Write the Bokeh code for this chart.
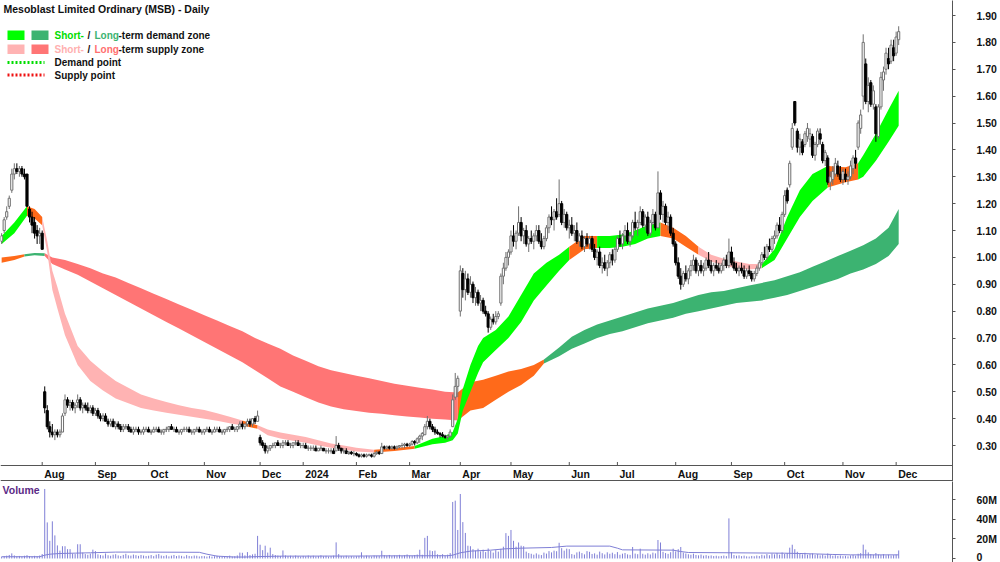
import numpy as np
from bokeh.plotting import figure
from bokeh.layouts import column
from bokeh.models import (Range1d, FixedTicker, Span, Label, BoxAnnotation,
                          Arrow, ColumnDataSource, PrintfTickFormatter, CustomJSTickFormatter)
from bokeh.core.properties import value
from bokeh.embed import file_html
from bokeh.resources import INLINE

FONT = "Liberation Sans"
TXT = "#111111"
AX = "#555555"

title = "Mesoblast Limited Ordinary (MSB) - Daily"

# ---------------- data ----------------
month_labels = ["Aug", "Sep", "Oct", "Nov", "Dec", "2024", "Feb", "Mar", "Apr", "May",
                "Jun", "Jul", "Aug", "Sep", "Oct", "Nov", "Dec"]
# trading bars per month, Jul-2023 .. Dec-2024
month_bars = [16, 21, 21, 22, 22, 17, 21, 21, 20, 20, 23, 19, 23, 22, 21, 23, 21, 2]

open_ = [
    1.06,1.10,1.15,1.19,1.25,1.31,1.33,1.32,1.33,1.31,1.31,1.18,1.15,1.13,1.10,1.08,
    1.09,0.50,0.43,0.37,0.35,0.34,0.35,0.34,0.35,0.42,0.47,0.45,0.46,0.44,0.46,0.47,0.44,0.45,0.44,0.43,0.44,
    0.42,0.43,0.41,0.40,0.41,0.39,0.38,0.39,0.37,0.38,0.37,0.36,0.37,0.37,0.36,0.35,0.36,0.36,0.35,0.35,0.36,
    0.36,0.35,0.35,0.36,0.36,0.35,0.35,0.36,0.36,0.37,0.36,0.36,0.35,0.35,0.36,0.36,0.36,0.35,0.35,0.36,0.36,0.35,
    0.35,0.36,0.36,0.35,0.35,0.36,0.36,0.35,0.35,0.36,0.36,0.37,0.36,0.36,0.37,0.38,0.37,0.38,0.39,0.38,0.40,0.39,
    0.33,0.31,0.30,0.28,0.29,0.30,0.30,0.31,0.30,0.30,0.31,0.31,0.30,0.30,0.31,0.31,0.30,
    0.30,0.30,0.29,0.29,0.29,0.29,0.28,0.29,0.29,0.28,0.28,0.28,0.28,0.28,0.30,0.29,0.28,0.28,0.27,0.275,0.27,
    0.27,0.265,0.26,0.265,0.26,0.265,0.265,0.26,0.27,0.275,0.27,0.295,0.29,0.295,0.29,0.295,0.29,0.295,0.30,0.30,0.305,
    0.30,0.305,0.315,0.31,0.325,0.335,0.34,0.37,0.39,0.37,0.36,0.35,0.345,0.34,0.335,0.33,0.335,0.37,0.48,0.52,
    0.80,0.94,0.88,0.92,0.87,0.90,0.85,0.87,0.83,0.84,0.80,0.79,0.74,0.77,0.76,0.78,0.83,0.93,0.96,1.00,
    1.02,1.08,1.06,1.09,1.13,1.08,1.10,1.05,1.07,1.06,1.08,1.10,1.06,1.04,1.07,1.11,1.15,1.14,1.17,1.16,1.20,1.13,1.16,
    1.11,1.12,1.09,1.10,1.06,1.08,1.04,1.07,1.05,1.07,1.03,1.00,1.02,0.97,0.98,0.96,0.98,1.01,0.99,
    1.03,1.07,1.05,1.08,1.10,1.06,1.08,1.13,1.11,1.13,1.17,1.12,1.15,1.09,1.13,1.16,1.11,1.24,1.16,1.19,1.13,1.15,1.09,
    1.05,0.98,0.93,0.90,0.94,0.92,0.95,0.97,0.99,0.95,0.97,0.95,0.96,0.99,0.97,0.95,0.97,0.96,0.95,0.97,0.99,0.97,
    1.02,0.98,0.96,0.95,0.96,0.95,0.93,0.95,0.94,0.92,0.94,0.96,0.98,1.01,1.00,1.04,1.03,1.07,1.08,1.12,1.10,
    1.16,1.25,1.27,1.41,1.58,1.47,1.41,1.43,1.42,1.45,1.44,1.45,1.38,1.42,1.46,1.42,1.36,1.37,1.28,1.29,1.31,1.34,1.31,
    1.29,1.31,1.29,1.30,1.33,1.37,1.41,1.48,1.60,1.72,1.58,1.65,1.57,1.56,1.45,1.56,1.66,1.70,1.74,1.73,1.78,
    1.76,1.81,
]
high = [
    1.09,1.15,1.19,1.23,1.33,1.35,1.35,1.34,1.34,1.33,1.31,1.19,1.17,1.15,1.12,1.11,
    1.10,0.52,0.45,0.39,0.38,0.36,0.36,0.36,0.42,0.49,0.48,0.47,0.47,0.46,0.49,0.48,0.46,0.46,0.46,0.45,0.45,
    0.44,0.44,0.42,0.42,0.42,0.40,0.40,0.40,0.39,0.39,0.38,0.38,0.38,0.38,0.37,0.37,0.37,0.37,0.36,0.37,0.37,
    0.37,0.36,0.37,0.37,0.37,0.36,0.36,0.37,0.37,0.38,0.37,0.37,0.36,0.36,0.37,0.37,0.37,0.36,0.36,0.37,0.37,0.36,
    0.36,0.37,0.37,0.36,0.37,0.37,0.37,0.36,0.36,0.37,0.37,0.38,0.37,0.37,0.39,0.39,0.38,0.40,0.40,0.40,0.41,0.43,
    0.34,0.32,0.31,0.30,0.30,0.31,0.31,0.32,0.31,0.32,0.32,0.32,0.31,0.31,0.32,0.32,0.31,
    0.31,0.31,0.30,0.30,0.30,0.30,0.29,0.30,0.29,0.29,0.29,0.29,0.29,0.335,0.31,0.29,0.29,0.29,0.28,0.28,0.28,
    0.275,0.27,0.27,0.27,0.27,0.27,0.27,0.275,0.28,0.28,0.31,0.30,0.30,0.30,0.30,0.30,0.30,0.30,0.31,0.31,0.31,
    0.31,0.32,0.32,0.33,0.34,0.35,0.38,0.41,0.40,0.38,0.37,0.36,0.35,0.35,0.34,0.34,0.36,0.49,0.57,0.56,
    0.97,0.96,0.95,0.94,0.93,0.91,0.89,0.88,0.86,0.85,0.82,0.80,0.78,0.79,0.80,0.80,0.94,0.98,1.02,1.03,
    1.10,1.12,1.10,1.19,1.15,1.11,1.12,1.08,1.10,1.09,1.12,1.12,1.09,1.08,1.12,1.16,1.19,1.18,1.22,1.29,1.21,1.18,1.17,
    1.14,1.15,1.12,1.13,1.09,1.10,1.08,1.09,1.08,1.08,1.05,1.03,1.04,1.00,1.01,0.99,1.02,1.03,1.04,
    1.08,1.10,1.09,1.12,1.13,1.09,1.14,1.17,1.14,1.19,1.18,1.16,1.17,1.14,1.18,1.17,1.32,1.25,1.21,1.20,1.17,1.16,1.11,
    1.06,1.00,0.96,0.95,0.97,0.96,0.99,1.01,1.00,0.98,0.99,0.98,1.00,1.02,0.99,0.98,0.99,0.98,0.98,1.00,1.01,1.07,
    1.04,1.00,0.98,0.97,0.98,0.97,0.96,0.97,0.95,0.95,0.97,0.99,1.02,1.04,1.05,1.07,1.08,1.10,1.13,1.15,1.17,
    1.25,1.26,1.36,1.50,1.58,1.48,1.46,1.44,1.47,1.50,1.48,1.46,1.43,1.48,1.48,1.43,1.40,1.38,1.32,1.34,1.37,1.36,1.34,
    1.33,1.33,1.32,1.36,1.38,1.40,1.51,1.55,1.83,1.74,1.67,1.66,1.64,1.57,1.57,1.69,1.71,1.78,1.78,1.81,1.81,
    1.84,1.86,
]
low = [
    1.05,1.09,1.14,1.18,1.24,1.29,1.31,1.30,1.30,1.29,1.19,1.13,1.09,1.07,1.05,1.05,
    1.03,0.42,0.36,0.33,0.33,0.32,0.33,0.33,0.35,0.41,0.44,0.43,0.43,0.42,0.44,0.43,0.42,0.43,0.42,0.42,0.41,
    0.41,0.40,0.39,0.39,0.39,0.37,0.37,0.37,0.36,0.36,0.35,0.35,0.36,0.35,0.35,0.34,0.35,0.34,0.34,0.34,0.35,
    0.35,0.34,0.35,0.35,0.35,0.34,0.34,0.35,0.35,0.36,0.35,0.35,0.34,0.34,0.35,0.35,0.35,0.34,0.34,0.35,0.35,0.34,
    0.34,0.35,0.35,0.34,0.35,0.35,0.35,0.34,0.34,0.35,0.35,0.36,0.35,0.35,0.36,0.36,0.36,0.37,0.37,0.37,0.38,0.39,
    0.30,0.29,0.27,0.27,0.28,0.29,0.29,0.30,0.29,0.29,0.30,0.30,0.29,0.29,0.30,0.30,0.29,
    0.29,0.29,0.28,0.28,0.28,0.28,0.28,0.28,0.28,0.27,0.27,0.27,0.27,0.28,0.28,0.27,0.27,0.27,0.265,0.265,0.26,
    0.26,0.255,0.255,0.255,0.255,0.26,0.255,0.255,0.265,0.265,0.27,0.285,0.285,0.285,0.285,0.285,0.285,0.29,0.29,0.29,0.295,
    0.295,0.30,0.30,0.305,0.31,0.32,0.34,0.36,0.36,0.35,0.34,0.34,0.33,0.33,0.325,0.32,0.33,0.37,0.47,0.48,
    0.78,0.85,0.84,0.86,0.85,0.83,0.82,0.82,0.80,0.79,0.78,0.72,0.73,0.75,0.75,0.77,0.82,0.90,0.95,0.97,
    1.01,1.04,1.03,1.08,1.06,1.05,1.04,1.02,1.05,1.03,1.06,1.05,1.03,1.03,1.06,1.09,1.12,1.10,1.14,1.15,1.12,1.11,1.10,
    1.07,1.08,1.06,1.05,1.04,1.03,1.02,1.04,1.03,1.02,0.99,0.97,0.96,0.94,0.95,0.93,0.96,0.97,0.98,
    1.02,1.04,1.03,1.06,1.05,1.04,1.07,1.10,1.08,1.12,1.11,1.10,1.08,1.08,1.12,1.10,1.11,1.14,1.13,1.12,1.10,1.08,1.04,
    0.97,0.92,0.88,0.89,0.91,0.90,0.93,0.95,0.94,0.93,0.94,0.93,0.95,0.96,0.94,0.93,0.95,0.94,0.94,0.95,0.96,0.96,
    0.97,0.95,0.94,0.93,0.94,0.92,0.92,0.93,0.91,0.91,0.93,0.95,0.97,0.99,0.99,1.02,1.02,1.05,1.07,1.09,1.09,
    1.15,1.20,1.26,1.40,1.49,1.39,1.38,1.38,1.41,1.43,1.41,1.37,1.36,1.41,1.42,1.35,1.34,1.27,1.25,1.27,1.30,1.30,1.28,
    1.27,1.28,1.27,1.29,1.31,1.33,1.40,1.46,1.55,1.57,1.54,1.56,1.55,1.43,1.44,1.55,1.62,1.68,1.70,1.72,1.73,
    1.75,1.79,
]
close_ = [
    1.08,1.14,1.17,1.22,1.31,1.33,1.32,1.33,1.31,1.30,1.19,1.15,1.12,1.09,1.08,1.09,
    1.03,0.44,0.37,0.35,0.34,0.35,0.34,0.35,0.41,0.47,0.45,0.46,0.44,0.45,0.47,0.44,0.45,0.44,0.43,0.44,0.42,
    0.43,0.41,0.40,0.41,0.39,0.38,0.39,0.37,0.38,0.37,0.36,0.37,0.37,0.36,0.35,0.36,0.36,0.35,0.35,0.36,0.36,
    0.35,0.35,0.36,0.36,0.35,0.35,0.36,0.36,0.37,0.36,0.36,0.35,0.35,0.36,0.36,0.36,0.35,0.35,0.36,0.36,0.35,0.35,
    0.36,0.36,0.35,0.35,0.36,0.36,0.35,0.35,0.36,0.36,0.37,0.36,0.36,0.37,0.38,0.37,0.38,0.39,0.38,0.40,0.39,0.41,
    0.31,0.30,0.28,0.29,0.30,0.30,0.31,0.30,0.30,0.31,0.31,0.30,0.30,0.31,0.31,0.30,0.30,
    0.30,0.29,0.29,0.29,0.29,0.28,0.29,0.29,0.28,0.28,0.28,0.28,0.27,0.30,0.29,0.28,0.28,0.27,0.275,0.27,0.27,
    0.265,0.26,0.265,0.26,0.265,0.265,0.26,0.27,0.275,0.27,0.295,0.29,0.295,0.29,0.295,0.29,0.295,0.30,0.30,0.305,0.30,
    0.305,0.315,0.31,0.325,0.335,0.345,0.37,0.39,0.37,0.36,0.35,0.345,0.34,0.335,0.33,0.335,0.35,0.47,0.52,0.55,
    0.95,0.88,0.92,0.87,0.90,0.85,0.87,0.83,0.84,0.80,0.79,0.74,0.77,0.76,0.78,0.79,0.93,0.96,1.00,1.02,
    1.08,1.06,1.09,1.13,1.08,1.10,1.05,1.07,1.06,1.08,1.10,1.06,1.04,1.07,1.11,1.15,1.14,1.17,1.15,1.20,1.13,1.16,1.11,
    1.12,1.09,1.10,1.06,1.08,1.04,1.07,1.05,1.07,1.03,1.00,1.02,0.97,0.98,0.96,0.98,1.01,0.99,1.03,
    1.07,1.05,1.08,1.10,1.06,1.08,1.13,1.11,1.13,1.17,1.12,1.15,1.09,1.13,1.16,1.11,1.24,1.16,1.19,1.13,1.15,1.09,1.05,
    0.98,0.93,0.90,0.94,0.92,0.95,0.97,0.99,0.95,0.97,0.95,0.96,0.99,0.97,0.95,0.97,0.96,0.95,0.97,0.99,0.97,1.02,
    0.98,0.96,0.95,0.96,0.95,0.93,0.95,0.94,0.92,0.94,0.96,0.98,1.01,1.00,1.04,1.03,1.07,1.08,1.12,1.10,1.16,
    1.23,1.21,1.35,1.48,1.50,1.41,1.44,1.39,1.46,1.48,1.46,1.38,1.42,1.47,1.44,1.36,1.39,1.28,1.30,1.32,1.35,1.31,1.29,
    1.32,1.29,1.30,1.34,1.37,1.35,1.50,1.53,1.80,1.58,1.64,1.57,1.62,1.46,1.56,1.67,1.69,1.76,1.72,1.79,1.75,
    1.82,1.84,
]
volume_m = [
    1.8,2.4,2.9,3.6,5.2,3.1,2.2,2.6,1.9,2.8,3.4,2.5,2.0,2.7,2.3,3.0,
    4.5,70.7,36.7,18.0,37.8,23.5,13.3,8.0,12.5,12.5,9.5,9.5,5.0,4.5,14.5,14.5,6.0,4.5,3.8,5.0,9.0,
    7.5,4.2,3.5,3.0,5.1,3.3,2.8,3.9,4.4,3.1,2.6,3.7,4.8,3.2,2.9,4.0,3.4,2.7,3.6,3.0,2.5,
    2.8,3.5,2.4,3.9,4.6,3.0,2.6,3.3,2.2,2.9,3.6,2.5,3.1,2.7,2.0,3.4,2.6,2.3,3.0,2.8,2.1,2.5,
    2.4,2.0,2.7,1.9,2.3,2.8,2.1,1.8,2.5,2.2,2.9,2.0,2.4,3.1,6.0,5.8,3.2,6.5,3.5,4.2,4.8,23.0,
    14.0,8.5,13.0,6.0,11.0,4.5,3.5,3.0,2.6,8.2,3.1,2.4,2.8,2.2,3.0,2.5,2.0,
    2.6,2.2,3.0,2.4,2.8,2.1,2.5,3.2,2.3,2.7,2.0,2.4,2.9,16.4,4.5,2.6,2.2,2.8,2.1,2.4,2.0,
    2.3,2.6,6.3,2.2,2.9,2.4,2.1,3.0,2.7,2.5,7.9,3.4,2.8,3.6,2.5,3.1,2.9,3.7,2.6,3.3,4.1,
    3.0,2.7,3.5,4.0,8.9,3.8,21.0,23.0,8.2,7.5,8.0,4.2,3.6,4.4,3.1,3.9,5.5,57.5,58.8,29.0,
    65.6,37.0,26.0,13.0,12.5,9.5,8.0,10.0,7.2,9.0,6.5,10.2,7.8,6.0,8.5,7.0,9.8,12.0,25.8,23.0,
    29.0,18.0,12.0,16.3,13.0,12.5,7.0,5.5,4.8,3.9,5.2,4.0,3.5,6.0,5.0,7.5,6.2,8.0,7.4,16.0,10.5,8.0,10.0,
    9.5,4.5,3.8,6.2,7.0,5.5,4.2,7.5,6.8,4.6,5.2,3.9,7.0,5.4,4.1,6.3,4.8,5.9,4.4,
    6.5,3.8,4.9,5.6,4.2,3.7,11.7,5.0,4.4,10.0,4.8,3.9,5.3,4.1,6.0,5.2,18.8,16.3,6.8,5.5,4.7,6.4,10.0,
    7.2,9.5,11.7,6.0,5.1,4.3,3.8,4.9,3.6,3.2,4.0,2.9,3.4,2.7,3.1,2.5,2.8,2.3,2.6,3.0,2.4,40.8,
    6.5,3.5,2.8,3.2,2.4,2.9,2.2,2.0,2.6,2.3,3.0,2.5,3.8,3.1,4.5,3.3,5.0,4.2,5.6,3.9,6.1,
    4.8,5.5,11.0,14.0,9.5,6.8,5.0,4.2,5.8,3.9,4.6,5.2,3.5,4.4,3.2,4.0,2.9,5.1,3.6,2.8,3.3,2.6,3.0,
    2.4,2.7,2.2,3.1,3.6,2.9,4.8,5.5,14.1,9.0,6.2,4.5,3.8,5.6,4.1,3.5,4.4,3.2,3.9,3.0,3.4,
    4.0,8.2,
]
# volume moving average (at bar positions)
vma_idx = [0,15,17,19,23,35,45,55,78,81,85,92,96,102,111,142,150,176,178,181,185,193,199,205,217,
           223,240,243,245,265,268,271,288,309,315,328,335,354]
vma_val = [1.8,1.8,3.4,4.4,5.1,5.8,6.5,6.5,6.3,4.4,2.4,1.5,1.5,2.0,2.4,2.5,2.7,2.8,3.4,5.8,7.5,8.5,9.9,
           10.5,11.2,12.6,12.6,10.5,8.8,8.5,7.1,6.1,5.8,5.4,5.1,4.1,3.7,3.7]

# short-term zone (band edges at bar positions; zone code applies from that bar onward)
st_idx = [0,5,10,13,16,18,20,22,25,30,35,40,45,50,55,60,65,70,75,80,85,90,95,101,105,110,115,120,125,130,
          135,140,147,155,163,170,175,178,180,182,185,188,190,195,200,205,210,215,220,224,230,235,240,245,250,
          255,260,265,270,275,280,285,290,295,300,305,310,315,320,326,333,338,340,345,350,354]
st_lo = [1.05,1.09,1.155,1.145,1.12,1.02,0.88,0.81,0.71,0.60,0.54,0.505,0.475,0.457,0.44,0.43,0.422,0.414,0.407,0.40,
         0.392,0.383,0.374,0.362,0.338,0.326,0.318,0.31,0.30,0.292,0.285,0.278,0.274,0.28,0.288,0.305,0.31,0.32,0.345,0.43,
         0.50,0.57,0.61,0.655,0.70,0.76,0.84,0.895,0.95,0.99,1.03,1.035,1.035,1.04,1.05,1.07,1.08,1.07,1.04,1.01,
         0.985,0.97,0.96,0.955,0.96,0.99,1.07,1.15,1.21,1.26,1.28,1.29,1.30,1.36,1.43,1.49]
st_hi = [1.08,1.13,1.19,1.18,1.15,1.06,0.95,0.89,0.79,0.67,0.615,0.575,0.54,0.515,0.49,0.475,0.462,0.45,0.44,0.432,
         0.42,0.407,0.393,0.375,0.36,0.348,0.34,0.332,0.32,0.307,0.30,0.292,0.284,0.29,0.298,0.325,0.335,0.35,0.40,0.51,
         0.60,0.67,0.70,0.73,0.78,0.86,0.94,0.98,1.01,1.04,1.08,1.08,1.08,1.085,1.10,1.12,1.13,1.11,1.08,1.04,
         1.01,0.995,0.985,0.975,0.975,1.03,1.15,1.25,1.31,1.34,1.335,1.35,1.38,1.46,1.55,1.62]
st_zone = ["g","g","o","o","p","p","p","p","p","p", "p","p","p","p","p","p","p","p","p","p",
           "p","p","o","p","p","p","p","p","p","p", "p","p","o","o","g","g","g","g","g","g",
           "g","g","g","g","g","g","g","g","g","o", "o","g","g","g","g","g","o","o","o","p",
           "p","p","p","p","g","g","g","g","g","o", "o","g","g","g","g","g"]

# long-term zone
lt_idx = [0,5,9,13,17,20,25,30,35,40,45,50,55,60,65,70,75,80,85,90,95,100,105,110,115,120,125,130,135,140,
          145,150,155,160,165,170,175,180,185,190,195,200,205,210,214,220,225,230,235,240,245,250,255,260,265,
          270,275,280,285,290,295,300,305,310,315,320,325,330,335,340,345,350,354]
lt_lo = [0.98,0.99,1.003,1.008,1.005,0.975,0.955,0.935,0.91,0.885,0.86,0.835,0.81,0.785,0.76,0.735,0.71,0.685,0.66,0.635,
         0.61,0.58,0.55,0.52,0.50,0.48,0.46,0.445,0.435,0.428,0.422,0.418,0.413,0.408,0.404,0.40,0.397,0.393,0.43,0.44,
         0.47,0.50,0.525,0.56,0.605,0.632,0.66,0.68,0.70,0.715,0.725,0.74,0.755,0.765,0.775,0.79,0.80,0.81,0.82,0.83,
         0.835,0.84,0.85,0.86,0.875,0.89,0.905,0.92,0.94,0.955,0.975,1.005,1.05]
lt_hi = [1.00,1.005,1.012,1.016,1.015,1.0,0.99,0.975,0.96,0.94,0.925,0.905,0.885,0.865,0.845,0.825,0.805,0.785,0.765,0.745,
         0.725,0.70,0.68,0.66,0.635,0.615,0.595,0.58,0.57,0.56,0.55,0.54,0.53,0.522,0.515,0.508,0.50,0.497,0.535,0.545,
         0.56,0.575,0.585,0.60,0.62,0.665,0.705,0.73,0.75,0.765,0.78,0.795,0.81,0.82,0.83,0.845,0.86,0.87,0.875,0.885,
         0.895,0.905,0.915,0.93,0.945,0.965,0.985,1.005,1.025,1.045,1.07,1.11,1.18]
lt_zone = ["o","o","g","g"] + ["r"] * 33 + ["o"] * 7 + ["g"] * 29

price_ticks = [0.3, 0.4, 0.5, 0.6, 0.7, 0.8, 0.9, 1.0, 1.1, 1.2, 1.3, 1.4, 1.5, 1.6, 1.7, 1.8, 1.9]
vol_ticks = [0, 20, 40, 60]

ST_COL = {"g": "#00FF00", "o": "#FF6A1A", "p": "#FFB3B3"}
LT_COL = {"g": "#3CB371", "o": "#FF6A1A", "r": "#FF7575"}
VCOL = "#7F7FD6"

# ---------------- geometry ----------------
n = len(close_)
xs = list(range(n))
month_start = [int(v) for v in np.cumsum([0] + month_bars)[1:-1]]

PX_PER_BAR = 2.534
FRAME_W = 952
X0 = -1.15 / PX_PER_BAR
X1 = X0 + FRAME_W / PX_PER_BAR
PX_PER_UNIT = 268.75
P_H = 481
Y1 = 1.90 + 15 / PX_PER_UNIT
Y0 = Y1 - P_H / PX_PER_UNIT


def sx(px):
    return X0 + px / PX_PER_BAR


def sy(py):
    return Y1 - py / PX_PER_UNIT


def style_axis(ax):
    ax.axis_line_color = AX
    ax.major_tick_line_color = AX
    ax.major_tick_in = 0
    ax.major_tick_out = 3
    ax.minor_tick_line_color = None
    ax.major_label_standoff = 21
    ax.major_label_text_font = FONT
    ax.major_label_text_font_style = "bold"
    ax.major_label_text_font_size = "10.5px"
    ax.major_label_text_color = TXT


# ---------------- price pane ----------------
p1 = figure(width=1000, height=P_H, x_range=Range1d(X0, X1), y_range=Range1d(Y0, Y1),
            output_backend="svg", toolbar_location=None, x_axis_location=None,
            y_axis_location="right", min_border_left=0, min_border_right=48,
            min_border_top=0, min_border_bottom=0)
p1.outline_line_color = None
p1.grid.visible = False
ya = p1.yaxis[0]
ya.ticker = FixedTicker(ticks=price_ticks)
ya.formatter = PrintfTickFormatter(format="%.2f")
style_axis(ya)


def draw_band(p, idx, lo, hi, zone, cmap):
    m = len(idx)
    k = 0
    while k < m - 1:
        j = k
        while j + 1 < m - 1 and zone[j + 1] == zone[k]:
            j += 1
        sl = slice(k, j + 2)
        src = ColumnDataSource(dict(x=idx[sl], lo=lo[sl], hi=hi[sl]))
        p.varea(x="x", y1="lo", y2="hi", source=src, fill_color=cmap[zone[k]], fill_alpha=1.0)
        k = j + 1


draw_band(p1, lt_idx, lt_lo, lt_hi, lt_zone, LT_COL)
draw_band(p1, st_idx, st_lo, st_hi, st_zone, ST_COL)

o = np.array(open_)
c = np.array(close_)
up = c >= o
csrc = ColumnDataSource(dict(
    x=xs, h=high, l=low,
    top=list(np.maximum(o, c)), bot=list(np.minimum(o, c)),
    wick=["#707070" if u else "#000000" for u in up],
    fill=["#ffffff" if u else "#000000" for u in up],
))
p1.segment(x0="x", y0="l", x1="x", y1="h", line_color="wick", line_width=1, source=csrc)
p1.vbar(x="x", width=0.85, top="top", bottom="bot", fill_color="fill",
        line_color="wick", line_width=1, source=csrc)

# date band
p1.add_layout(Span(location=sy(465), dimension="width", line_color=AX, line_width=1))
p1.add_layout(Span(location=sy(480), dimension="width", line_color=AX, line_width=1))
msrc = ColumnDataSource(dict(x=month_start, lab=month_labels))
p1.segment(x0="x", y0=sy(465), x1="x", y1=sy(461.5), line_color=AX, line_width=1, source=msrc)
p1.text(x="x", y=sy(473), text="lab", x_offset=2, text_align="left", text_baseline="middle",
        text_font=value(FONT), text_font_style="bold", text_font_size="10.5px",
        text_color=TXT, source=msrc)


def lab(px, py, text, color=TXT, size="10px"):
    p1.add_layout(Label(x=sx(px), y=sy(py), text=text, text_color=color, text_font=FONT,
                        text_font_style="bold", text_font_size=size,
                        text_baseline="middle", text_align="left"))


def box(l, r, t, b, color):
    p1.add_layout(BoxAnnotation(left=sx(l), right=sx(r), top=sy(t), bottom=sy(b),
                                fill_color=color, fill_alpha=1.0, line_color=None))


lab(3, 8, title, size="10.5px")
box(7, 24, 30, 39.5, ST_COL["g"])
box(31, 48, 30, 39.5, LT_COL["g"])
box(7, 24, 44, 53.5, ST_COL["p"])
box(31, 48, 44, 53.5, LT_COL["r"])
lab(54, 35, "Short-", "#00DD00")
lab(87, 35, "/")
lab(94, 35, "Long", LT_COL["g"])
lab(118, 35, "-term demand zone")
lab(54, 49, "Short-", "#FFB0B0")
lab(87, 49, "/")
lab(94, 49, "Long", "#FF6F6F")
lab(118, 49, "-term supply zone")
p1.add_layout(Arrow(end=None, x_start=sx(7), y_start=sy(62), x_end=sx(44), y_end=sy(62),
                    line_color="#00DD00", line_width=3, line_dash="2 2"))
p1.add_layout(Arrow(end=None, x_start=sx(7), y_start=sy(74.5), x_end=sx(44), y_end=sy(74.5),
                    line_color="#EE1111", line_width=3, line_dash="2 2"))
lab(54, 62, "Demand point")
lab(54, 74.5, "Supply point")

# ---------------- volume pane ----------------
V_PX = 0.98333
P2_H = 81
VY1 = 60 + 18 / V_PX
VY0 = VY1 - P2_H / V_PX
p2 = figure(width=1000, height=P2_H, x_range=p1.x_range, y_range=Range1d(VY0, VY1),
            output_backend="svg", toolbar_location=None, x_axis_location=None,
            y_axis_location="right", min_border_left=0, min_border_right=48,
            min_border_top=0, min_border_bottom=0)
p2.outline_line_color = None
p2.grid.visible = False
va = p2.yaxis[0]
va.ticker = FixedTicker(ticks=vol_ticks)
va.formatter = CustomJSTickFormatter(code="return tick == 0 ? '0' : tick + 'M';")
style_axis(va)

vsrc = ColumnDataSource(dict(x=xs, v=volume_m))
p2.segment(x0="x", y0=0, x1="x", y1="v", line_color=VCOL, line_width=1, source=vsrc)
p2.line(vma_idx, vma_val, line_color=VCOL, line_width=1)
p2.add_layout(Label(x=sx(2), y=VY1 - 8.5 / V_PX, text="Volume", text_color="#5B2A86",
                    text_font=FONT, text_font_style="bold", text_font_size="10.5px",
                    text_baseline="middle", text_align="left"))

layout = column(p1, p2, spacing=0)
open("out.html", "w").write(file_html(layout, INLINE, title="Mesoblast Limited Ordinary (MSB) - Daily"))
